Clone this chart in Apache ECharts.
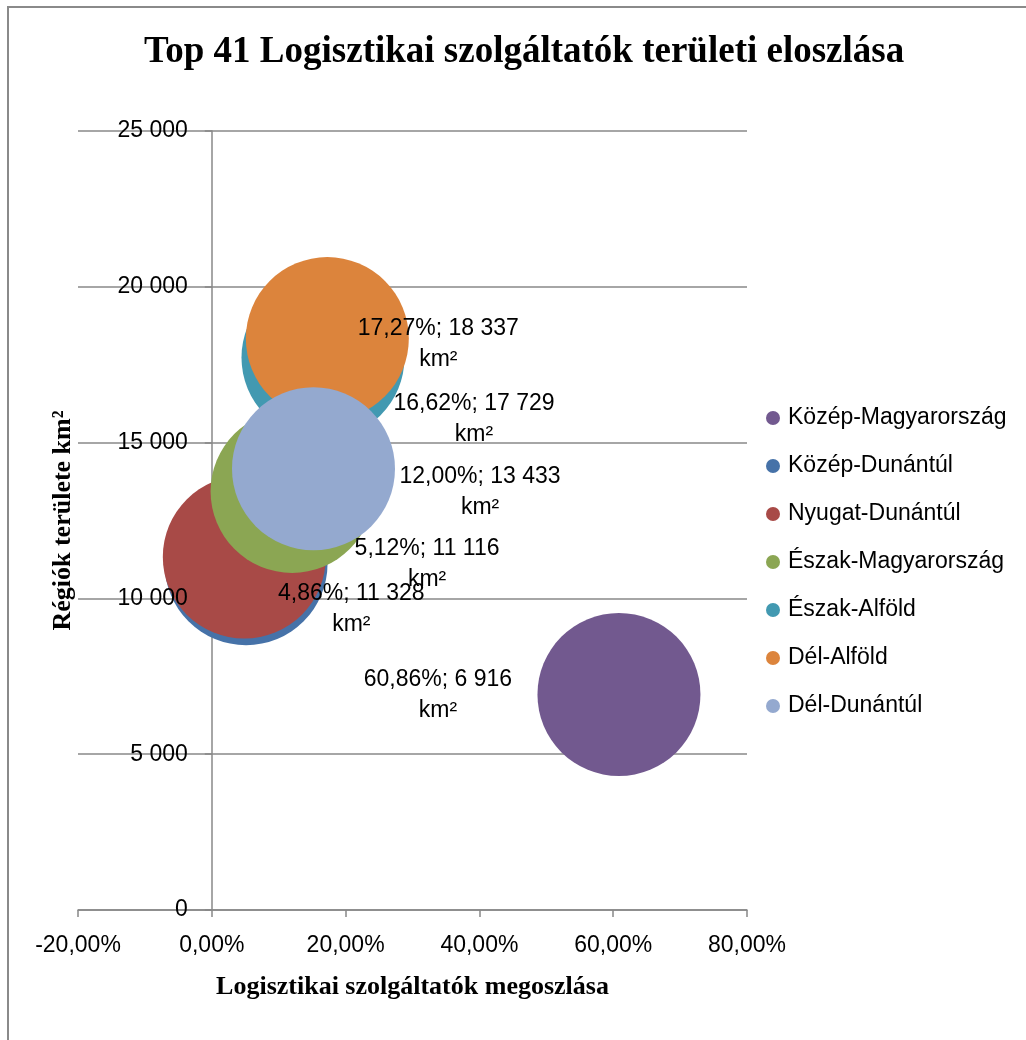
<!DOCTYPE html>
<html><head><meta charset="utf-8">
<script src="https://cdn.jsdelivr.net/npm/echarts@6/dist/echarts.min.js"></script>
<style>html,body{margin:0;padding:0;background:#fff}#c{width:1026px;height:1040px}</style>
</head><body><div id="c"></div>
<script>
// ---- data ----
const titleText = 'Top 41 Logisztikai szolgáltatók területi eloszlása';
const xAxisTitle = 'Logisztikai szolgáltatók megoszlása';
const yAxisTitle = 'Régiók területe km²';
const regions = ['Közép-Magyarország','Közép-Dunántúl','Nyugat-Dunántúl','Észak-Magyarország','Észak-Alföld','Dél-Alföld','Dél-Dunántúl'];
const shares = [60.86, 5.12, 4.86, 12.00, 16.62, 17.27, 15.2];   // %
const areas  = [6916, 11116, 11328, 13433, 17729, 18337, 14160]; // km²
const labelled = [true, true, true, true, true, true, false];
const xTicks = [-20, 0, 20, 40, 60, 80];
const yTicks = [0, 5000, 10000, 15000, 20000, 25000];

// ---- styling / layout ----
const colors = ['#72598f','#4672a8','#a84a47','#8ba653','#4299b1','#dc843c','#94a9cf'];
const labelOffsets = [[-181,1],[181,1],[107,52],[188,1],[151,62],[111,6],[0,0]];
const sans = 'Liberation Sans, Arial, sans-serif';
const serif = 'Liberation Serif, Times New Roman, serif';
const gridColor = '#888888';
const gridLeft = 78, gridRight = 279, gridTop = 131, gridBottom = 130;
const gridWidth = 1026 - gridLeft - gridRight;
const xMin = xTicks[0], xMax = xTicks[xTicks.length - 1];
// pixel distance from the grid's left edge to x = 0, for the label-only y axis
const zeroShift = (0 - xMin) / (xMax - xMin) * gridWidth;

const fmtPct = v => v.toFixed(2).replace('.', ',') + '%';
const fmtNum = v => String(Math.round(v)).replace(/\B(?=(\d{3})+(?!\d))/g, ' ');

const chart = echarts.init(document.getElementById('c'), null, {renderer: 'canvas'});
chart.setOption({
  backgroundColor: '#fff',
  animation: false,
  color: colors,
  title: {
    text: titleText, left: 139, top: 29,
    textStyle: {fontFamily: serif, fontWeight: 'bold', fontSize: 37, color: '#000'}
  },
  graphic: [{
    type: 'rect', silent: true, z: -10,
    shape: {x: 8, y: 7, width: 1200, height: 1200},
    style: {fill: 'none', stroke: '#8a8a8a', lineWidth: 2}
  }],
  legend: {
    data: regions, orient: 'vertical', left: 761, top: 400,
    icon: 'circle', itemWidth: 14, itemHeight: 14, itemGap: 22,
    textStyle: {fontFamily: sans, fontSize: 23, color: '#000', lineHeight: 26, padding: [0, 0, 0, 3]},
    selectedMode: false
  },
  grid: {left: gridLeft, right: gridRight, top: gridTop, bottom: gridBottom, containLabel: false, outerBoundsMode: 'none'},
  xAxis: [{
    type: 'value', min: xMin, max: xMax, interval: 20,
    axisLine: {show: true, onZero: true, lineStyle: {color: gridColor, width: 1.5}},
    axisTick: {show: true, length: 7, inside: false, lineStyle: {color: gridColor, width: 1.5}},
    axisLabel: {formatter: v => fmtPct(v), fontFamily: sans, fontSize: 23, color: '#000', margin: 24},
    splitLine: {show: false},
    name: xAxisTitle, nameLocation: 'middle', nameGap: 64,
    nameTextStyle: {fontFamily: serif, fontWeight: 'bold', fontSize: 26, color: '#000'}
  }],
  yAxis: [{
    type: 'value', min: yTicks[0], max: yTicks[yTicks.length - 1], interval: 5000, position: 'left',
    axisLine: {show: true, onZero: true, lineStyle: {color: gridColor, width: 1.5}},
    axisTick: {show: true, length: 7, inside: false, lineStyle: {color: gridColor, width: 1.5}},
    axisLabel: {show: false},
    splitLine: {show: true, lineStyle: {color: gridColor, width: 1.5}},
    name: yAxisTitle, nameLocation: 'middle', nameGap: 2, nameRotate: 90,
    nameTextStyle: {fontFamily: serif, fontWeight: 'bold', fontSize: 26, color: '#000'}
  }, {
    type: 'value', min: yTicks[0], max: yTicks[yTicks.length - 1], interval: 5000, position: 'left',
    offset: -zeroShift, z: 10,
    axisLine: {show: false, onZero: false},
    axisTick: {show: false},
    splitLine: {show: false},
    axisLabel: {formatter: v => fmtNum(v), fontFamily: sans, fontSize: 23, color: '#000', margin: 24}
  }],
  series: regions.map((name, i) => ({
    type: 'scatter', name, xAxisIndex: 0, yAxisIndex: 0,
    symbol: 'circle', symbolSize: 163,
    itemStyle: {color: colors[i], opacity: 1},
    emphasis: {disabled: true},
    data: [[shares[i], areas[i]]],
    label: {
      show: labelled[i], position: 'inside', offset: labelOffsets[i],
      formatter: p => fmtPct(p.value[0]) + '; ' + fmtNum(p.value[1]) + '\nkm²',
      fontFamily: sans, fontSize: 23, lineHeight: 31, color: '#000', align: 'center'
    }
  }))
});
</script></body></html>
